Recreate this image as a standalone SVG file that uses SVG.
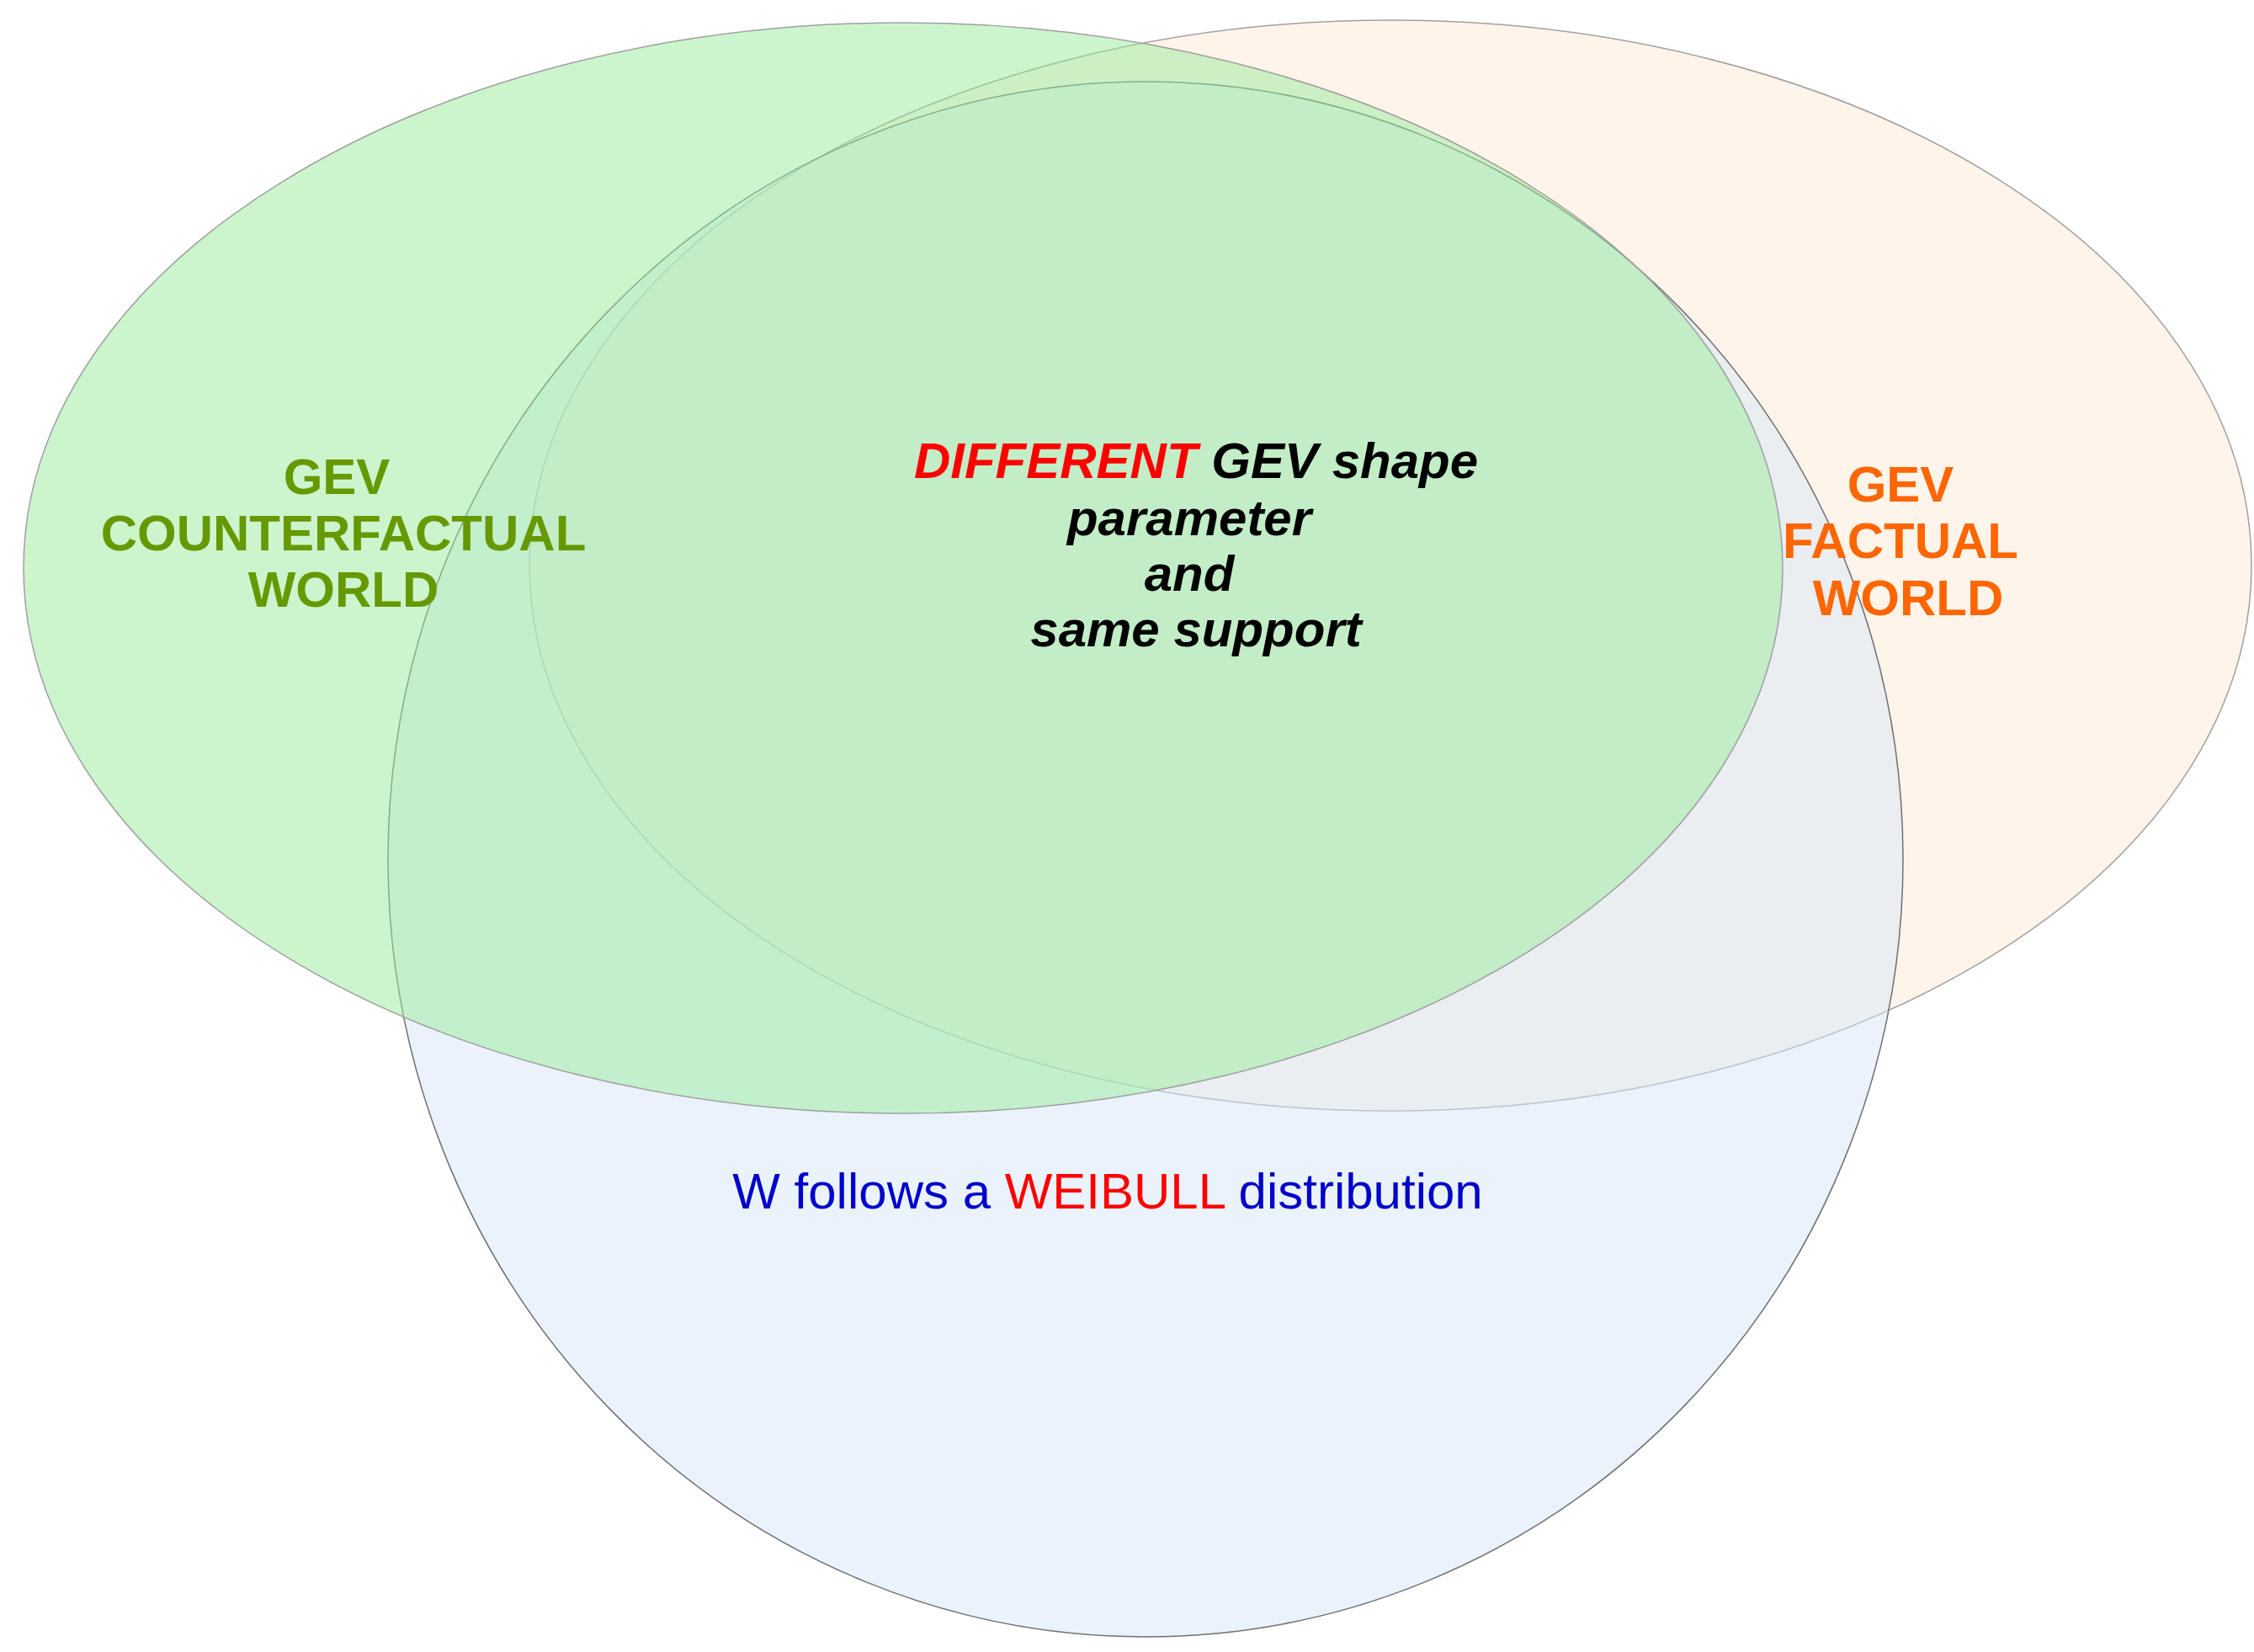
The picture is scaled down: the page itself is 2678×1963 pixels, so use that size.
<svg xmlns="http://www.w3.org/2000/svg" width="2678" height="1963" viewBox="0 0 2678 1963">
  <style>
    .lbl { font-family: "Liberation Sans", Arial, sans-serif; font-size: 60px; }
    .b { font-weight: bold; }
    .bi { font-weight: bold; font-style: italic; }
    .shape { stroke-width: 1.5; }
  </style>
  <rect width="2678" height="1963" fill="#FFFFFF"/>
  <g id="factual">
    <ellipse class="shape" cx="1652" cy="672" rx="1023" ry="648" fill="#FFE9D5" fill-opacity="0.5" stroke="#A0A0A0"/>
  </g>
  <g id="weibull">
    <ellipse class="shape" cx="1361" cy="1021" rx="900" ry="924" fill="#D5E7F7" fill-opacity="0.5" stroke="#707070"/>
  </g>
  <g id="counterfactual">
    <ellipse class="shape" cx="1073" cy="675" rx="1045" ry="648" fill="#99EB9D" fill-opacity="0.5" stroke="#A0A0A0"/>
  </g>
  <g id="connectors"/>
  <g id="label-counterfactual" class="lbl b" fill="#669900" text-anchor="middle">
    <text x="400" y="587">GEV</text>
    <text x="408" y="654">COUNTERFACTUAL</text>
    <text x="408" y="721">WORLD</text>
  </g>
  <g id="label-factual" class="lbl b" fill="#FF6600" text-anchor="middle">
    <text x="2258" y="596">GEV</text>
    <text x="2258" y="663">FACTUAL</text>
    <text x="2267" y="731">WORLD</text>
  </g>
  <g id="label-overlap" class="lbl bi" fill="#000000" text-anchor="middle">
    <text x="1421" y="568"><tspan fill="#FF0000">DIFFERENT</tspan> GEV shape</text>
    <text x="1413" y="636">parameter</text>
    <text x="1413" y="702">and</text>
    <text x="1421" y="768">same support</text>
  </g>
  <g id="label-weibull" class="lbl" fill="#0000CC" text-anchor="middle">
    <text x="1316" y="1436">W follows a <tspan fill="#FF0000">WEIBULL</tspan> distribution</text>
  </g>
</svg>
